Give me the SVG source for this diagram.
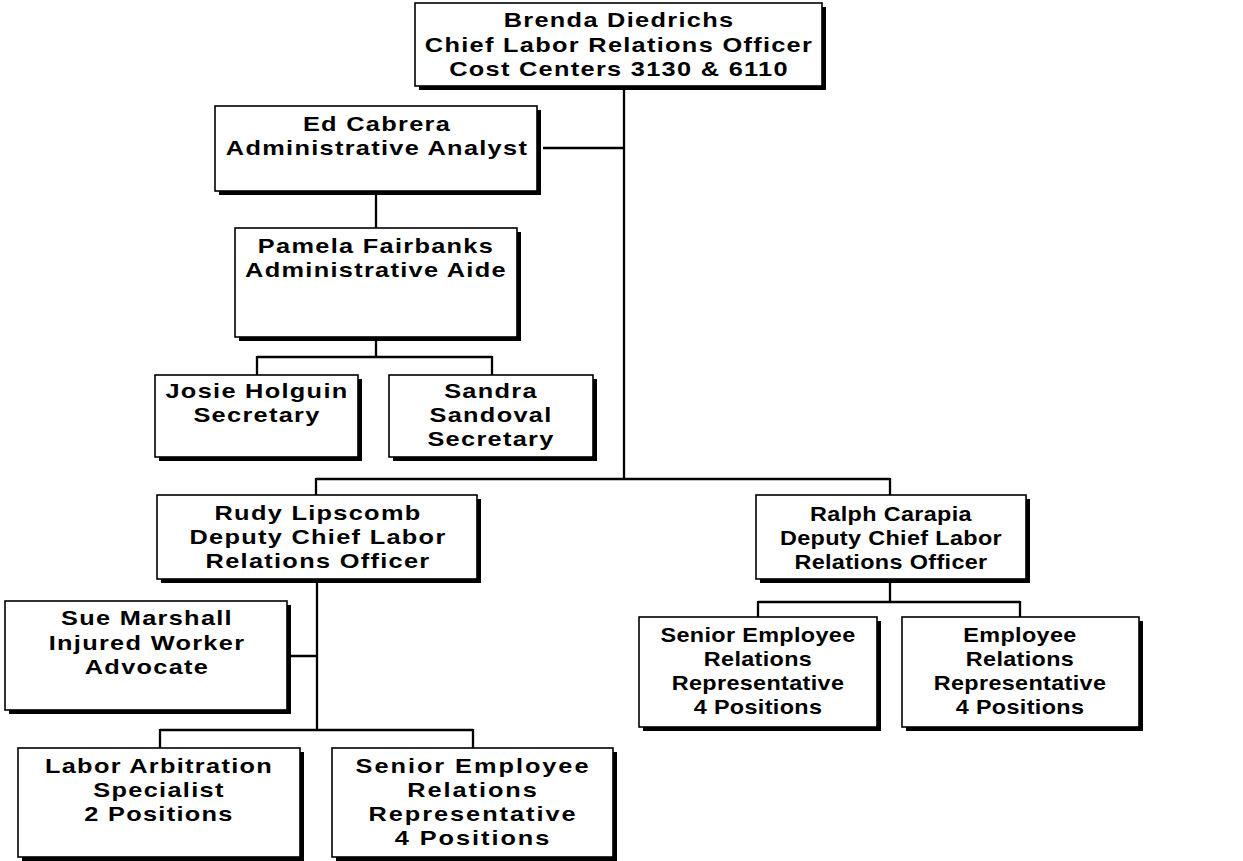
<svg xmlns="http://www.w3.org/2000/svg" width="1243" height="861" viewBox="0 0 1243 861">
<style>
.bg{fill:#fff}
.sh{fill:#000}
.bx{fill:#fff;stroke:#000;stroke-width:1.6}
.ln{fill:none;stroke:#000;stroke-width:2.3}
text{font-family:"Liberation Sans",Arial,sans-serif;font-weight:bold;font-size:19.5px;fill:#000;text-anchor:middle;letter-spacing:1px}
.n text{letter-spacing:0.3px}
.w text{letter-spacing:1.5px}
</style>
<rect class="bg" x="0" y="0" width="1243" height="861"/>
<g id="connectors">
<path class="ln" d="M624 89V479"/>
<path class="ln" d="M543 148H624"/>
<path class="ln" d="M316 479H890M316 478V495M890 478V495"/>
<path class="ln" d="M376 194V228"/>
<path class="ln" d="M376 340V357M257 357H492M257 356V375M492 356V375"/>
<path class="ln" d="M317 583V730M291 656H317"/>
<path class="ln" d="M160 730H473M160 729V748M473 729V748"/>
<path class="ln" d="M890 583V602M758 602H1020M758 601V617M1020 601V617"/>
</g>
<g id="brenda">
<rect class="sh" x="419" y="7" width="407" height="83"/>
<rect class="bx" x="415" y="3" width="407" height="83"/>
<g transform="translate(619 0) scale(1.3 1)">
<text x="0" y="27">Brenda Diedrichs</text>
<text x="0" y="52">Chief Labor Relations Officer</text>
<text x="0" y="76.5">Cost Centers 3130 &amp; 6110</text>
</g>
</g>
<g id="ed">
<rect class="sh" x="219" y="110" width="322" height="85"/>
<rect class="bx" x="215" y="106" width="322" height="85"/>
<g transform="translate(377 0) scale(1.3 1)">
<text x="0" y="131.5">Ed Cabrera</text>
<text x="0" y="155">Administrative Analyst</text>
</g>
</g>
<g id="pamela">
<rect class="sh" x="239" y="232" width="282" height="109"/>
<rect class="bx" x="235" y="228" width="282" height="109"/>
<g transform="translate(376 0) scale(1.3 1)">
<text x="0" y="253">Pamela Fairbanks</text>
<text x="0" y="277">Administrative Aide</text>
</g>
</g>
<g id="josie">
<rect class="sh" x="159" y="379" width="203" height="82"/>
<rect class="bx" x="155" y="375" width="203" height="82"/>
<g transform="translate(257 0) scale(1.3 1)">
<text x="0" y="398">Josie Holguin</text>
<text x="0" y="422">Secretary</text>
</g>
</g>
<g id="sandra">
<rect class="sh" x="393" y="379" width="204" height="82"/>
<rect class="bx" x="389" y="375" width="204" height="82"/>
<g transform="translate(491 0) scale(1.3 1)">
<text x="0" y="398">Sandra</text>
<text x="0" y="422">Sandoval</text>
<text x="0" y="446">Secretary</text>
</g>
</g>
<g id="rudy">
<rect class="sh" x="161" y="499" width="320" height="84"/>
<rect class="bx" x="157" y="495" width="320" height="84"/>
<g transform="translate(318 0) scale(1.3 1)">
<text x="0" y="520">Rudy Lipscomb</text>
<text x="0" y="544">Deputy Chief Labor</text>
<text x="0" y="568">Relations Officer</text>
</g>
</g>
<g id="ralph">
<rect class="sh" x="760" y="499" width="270" height="84"/>
<rect class="bx" x="756" y="495" width="270" height="84"/>
<g class="n" transform="translate(891 0) scale(1.2 1)">
<text x="0" y="521">Ralph Carapia</text>
<text x="0" y="545">Deputy Chief Labor</text>
<text x="0" y="569">Relations Officer</text>
</g>
</g>
<g id="sue">
<rect class="sh" x="9" y="605" width="282" height="109"/>
<rect class="bx" x="5" y="601" width="282" height="109"/>
<g transform="translate(147 0) scale(1.3 1)">
<text x="0" y="625">Sue Marshall</text>
<text x="0" y="650">Injured Worker</text>
<text x="0" y="674">Advocate</text>
</g>
</g>
<g id="labor-arbitration">
<rect class="sh" x="22" y="752" width="282" height="109"/>
<rect class="bx" x="18" y="748" width="282" height="109"/>
<g transform="translate(159 0) scale(1.3 1)">
<text x="0" y="773">Labor Arbitration</text>
<text x="0" y="797">Specialist</text>
<text x="0" y="821">2 Positions</text>
</g>
</g>
<g id="senior-left">
<rect class="sh" x="336" y="752" width="281" height="109"/>
<rect class="bx" x="332" y="748" width="281" height="109"/>
<g class="w" transform="translate(473 0) scale(1.3 1)">
<text x="0" y="773">Senior Employee</text>
<text x="0" y="797">Relations</text>
<text x="0" y="821">Representative</text>
<text x="0" y="845">4 Positions</text>
</g>
</g>
<g id="senior-right">
<rect class="sh" x="643" y="621" width="238" height="110"/>
<rect class="bx" x="639" y="617" width="238" height="110"/>
<g class="n" transform="translate(758 0) scale(1.2 1)">
<text x="0" y="642">Senior Employee</text>
<text x="0" y="666">Relations</text>
<text x="0" y="690">Representative</text>
<text x="0" y="714">4 Positions</text>
</g>
</g>
<g id="employee">
<rect class="sh" x="906" y="621" width="237" height="110"/>
<rect class="bx" x="902" y="617" width="237" height="110"/>
<g class="n" transform="translate(1020 0) scale(1.2 1)">
<text x="0" y="642">Employee</text>
<text x="0" y="666">Relations</text>
<text x="0" y="690">Representative</text>
<text x="0" y="714">4 Positions</text>
</g>
</g>
</svg>
